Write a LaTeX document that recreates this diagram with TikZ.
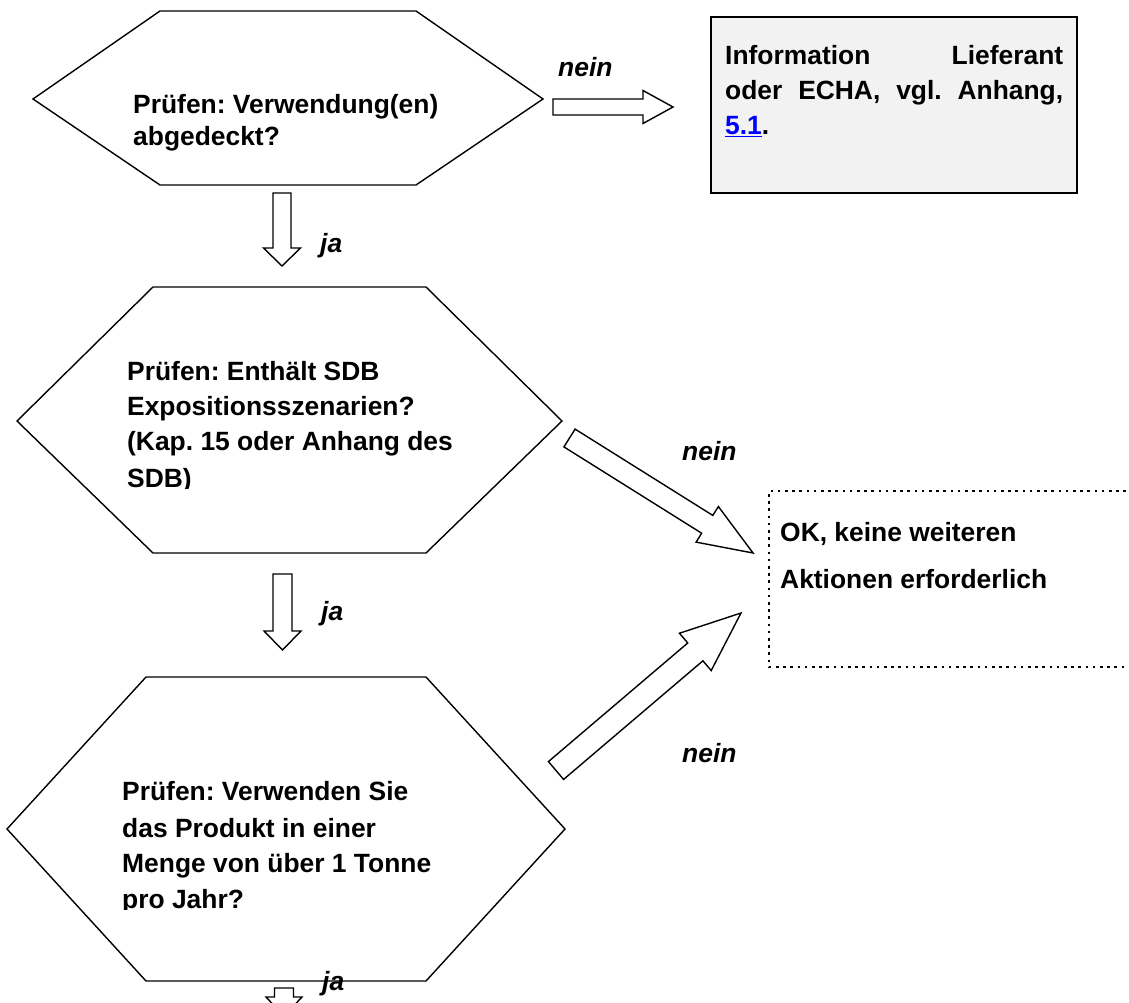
\documentclass[tikz,border=0pt]{standalone}
\usepackage{fontspec}
\setmainfont{Liberation Sans}
\usetikzlibrary{calc}
\definecolor{boxgray}{HTML}{F2F2F2}
\definecolor{linkblue}{HTML}{0000FF}
% block arrow: #1 tail, #2 tip, #3 shaft half width, #4 head length, #5 head half width
\newcommand\blockarrow[5]{%
  \coordinate (ba-h) at ($(#2)!#4!(#1)$);
  \draw[barrow] ($(#1)!#3!90:(#2)$) -- ($(ba-h)!#3!-90:(#1)$) -- ($(ba-h)!#5!-90:(#1)$) -- (#2)
    -- ($(ba-h)!#5!90:(#1)$) -- ($(ba-h)!#3!90:(#1)$) -- ($(#1)!#3!-90:(#2)$) -- cycle;
}
\frenchspacing
\begin{document}
\frenchspacing
\begin{tikzpicture}[x=1pt,y=-1pt,
  hexa/.style={draw=black,line width=1.4pt,line join=miter},
  txt/.style={anchor=base west,inner sep=0pt,font=\fontsize{26.4}{30}\selectfont\bfseries\frenchspacing},
  lbl/.style={anchor=base west,inner sep=0pt,font=\fontsize{26.4}{30}\selectfont\bfseries\itshape},
  barrow/.style={draw=black,fill=white,line width=1.4pt,line join=miter},
  infobox/.style={draw=black,fill=boxgray,line width=1.4pt},
  dotbox/.style={draw=black,line width=2.6pt,dash pattern=on 2.6pt off 4.6pt}]
\useasboundingbox (0,0) rectangle (1129,1003);

% ---------- hexagon 1
\draw[hexa] (33,99) -- (160,11) -- (416,11) -- (543,99) -- (416,185) -- (160,185) -- cycle;
\node[txt] (h1a) at (133,114) {Prüfen: Verwendung(en)};
\node[txt] (h1b) at (133,146) {abgedeckt?};

% ---------- info box
\draw[infobox] (711,17) rectangle (1077,193);
\node[txt] (b1a) at (725,65) {\makebox[338pt][s]{Information Lieferant}};
\node[txt] (b1b) at (725,100) {\makebox[338pt][s]{oder ECHA, vgl. Anhang,}};
\node[txt] (b1c) at (725,135) {{\color{linkblue}\underline{5.1}}.};

% ---------- hexagon 2
\draw[hexa] (17,421) -- (153,287) -- (426,287) -- (562,421) -- (426,553) -- (153,553) -- cycle;
\begin{scope}
  \clip (0,0) rectangle (1129,488);
  \node[txt] (h2a) at (127,380) {Prüfen: Enthält SDB};
  \node[txt] (h2b) at (127,415) {Expositionsszenarien?};
  \node[txt] (h2c) at (127,450) {(Kap. 15 oder Anhang des};
  \node[txt] (h2d) at (127,487) {SDB)};
\end{scope}

% ---------- hexagon 3
\draw[hexa] (7,829) -- (146,677) -- (426,677) -- (565,829) -- (426,981) -- (146,981) -- cycle;
\begin{scope}
  \clip (0,0) rectangle (1129,909);
  \node[txt] (h3a) at (122,800) {Prüfen: Verwenden Sie};
  \node[txt] (h3b) at (122,837) {das Produkt in einer};
  \node[txt] (h3c) at (122,872) {Menge von über 1 Tonne};
  \node[txt] (h3d) at (122,908) {pro Jahr?};
\end{scope}

% ---------- dotted box
\draw[dotbox] (1126,491) -- (769,491) -- (769,667) -- (1126,667);
\node[txt] (oka) at (780,541) {OK, keine weiteren};
\node[txt] (okb) at (780,588) {Aktionen erforderlich};

% ---------- arrow end points
\coordinate (a1t) at (553,107); \coordinate (a1h) at (673,107);
\coordinate (a2t) at (282,193); \coordinate (a2h) at (282,266);
\coordinate (a3t) at (569.5,438); \coordinate (a3h) at (753,553);
\coordinate (a4t) at (282.5,574); \coordinate (a4h) at (282.5,650);
\coordinate (a5t) at (556,770.5); \coordinate (a5h) at (741,613);
\coordinate (a6t) at (284,988); \coordinate (a6h) at (284,1016);

\blockarrow{a1t}{a1h}{8pt}{30pt}{16.5pt}
\blockarrow{a2t}{a2h}{9pt}{18pt}{18.5pt}
\blockarrow{a3t}{a3h}{10.5pt}{54pt}{21pt}
\blockarrow{a4t}{a4h}{9.5pt}{19pt}{18.5pt}
\blockarrow{a5t}{a5h}{11.7pt}{60pt}{24.5pt}
\blockarrow{a6t}{a6h}{9.5pt}{19pt}{18pt}

% ---------- labels
\node[lbl] (n1) at (558,77) {nein};
\node[lbl] (n2) at (682,460) {nein};
\node[lbl] (n3) at (682,762) {nein};
\node[lbl] (j1) at (320,252) {ja};
\node[lbl] (j2) at (321,620) {ja};
\node[lbl] (j3) at (322,990) {ja};
\end{tikzpicture}
\end{document}
